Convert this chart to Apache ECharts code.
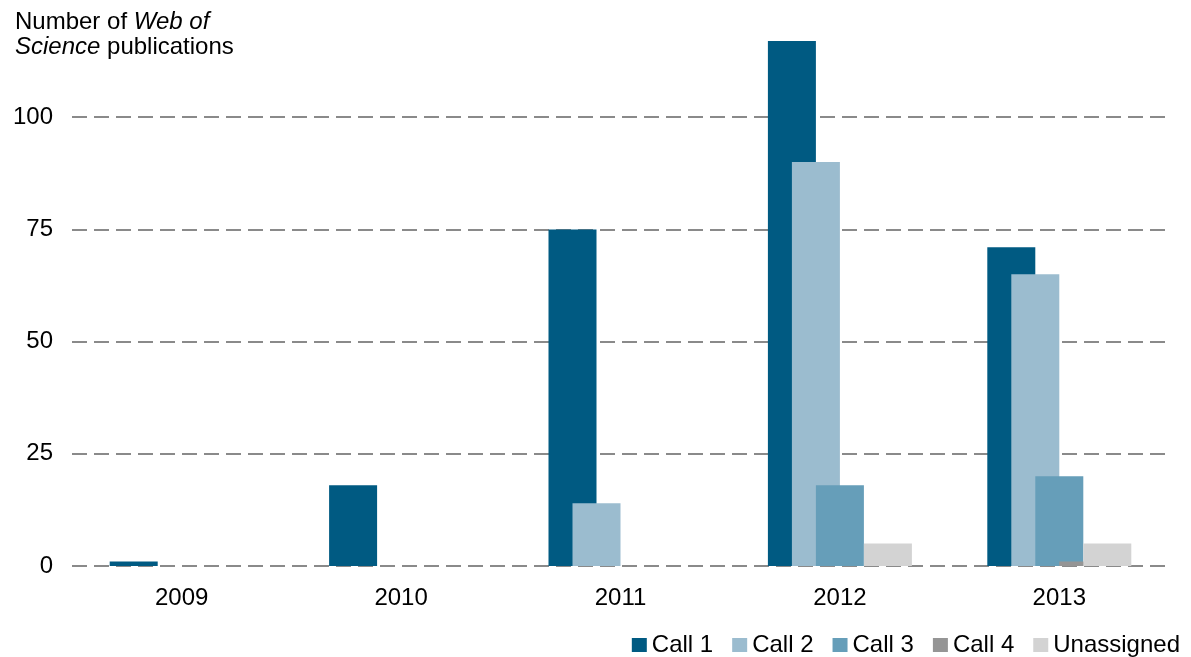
<!DOCTYPE html>
<html>
<head>
<meta charset="utf-8">
<script src="https://cdn.jsdelivr.net/npm/echarts@6/dist/echarts.min.js"></script>
<style>
html,body{margin:0;padding:0;background:#fff;}
#chart{width:1191px;height:657px;}
</style>
</head>
<body>
<div id="chart"></div>
<script>
const years = ['2009', '2010', '2011', '2012', '2013'];
const call1 = [1, 18, 75, 117, 71];
const call2 = [0, 0, 14, 90, 65];
const call3 = [0, 0, 0, 18, 20];
const call4 = [0, 0, 0, 0, 1];
const unassigned = [0, 0, 0, 5, 5];
const seriesNames = ['Call 1', 'Call 2', 'Call 3', 'Call 4', 'Unassigned'];
const seriesColors = ['#005a82', '#9bbccf', '#669eb9', '#959595', '#d3d3d3'];
const yTicks = [0, 25, 50, 75, 100];

const FONT = "'Liberation Sans', Arial, sans-serif";
const allData = [call1, call2, call3, call4, unassigned];

const chart = echarts.init(document.getElementById('chart'));
chart.setOption({
  animation: false,
  backgroundColor: '#fff',
  textStyle: { fontFamily: FONT },
  title: {
    left: 10,
    top: 5,
    text: '{n|Number of }{i|Web of}\n{i|Science}{n| publications}',
    textStyle: {
      fontWeight: 'normal',
      rich: {
        n: { fontSize: 24, fontFamily: FONT, color: '#000', fontWeight: 'normal', lineHeight: 25 },
        i: { fontSize: 24, fontFamily: FONT, color: '#000', fontWeight: 'normal', fontStyle: 'italic', lineHeight: 25 }
      }
    }
  },
  legend: {
    right: 6,
    bottom: -5,
    itemWidth: 15,
    itemHeight: 14,
    itemGap: 19,
    icon: 'rect',
    textStyle: { fontSize: 24, fontFamily: FONT, color: '#000' },
    data: seriesNames
  },
  grid: { left: 72, right: 22, top: 5, bottom: 91 },
  xAxis: {
    type: 'category',
    data: years,
    axisLine: { show: false },
    axisTick: { show: false },
    axisLabel: { fontSize: 24, fontFamily: FONT, color: '#000', margin: 20 }
  },
  yAxis: {
    type: 'value',
    min: 0,
    max: 125,
    interval: 25,
    axisLine: { show: false },
    axisTick: { show: false },
    axisLabel: {
      fontSize: 24, fontFamily: FONT, color: '#000', margin: 19,
      showMaxLabel: false,
      formatter: v => (yTicks.indexOf(v) >= 0 ? String(v) : '')
    },
    splitLine: {
      show: true,
      showMaxLine: false,
      lineStyle: { color: '#8a8a8a', width: 2, type: [15, 7] }
    }
  },
  series: seriesNames.map((name, i) => ({
    name: name,
    type: 'bar',
    data: allData[i],
    barWidth: 48,
    barGap: '-50%',
    itemStyle: { color: seriesColors[i] }
  }))
});
</script>
</body>
</html>
